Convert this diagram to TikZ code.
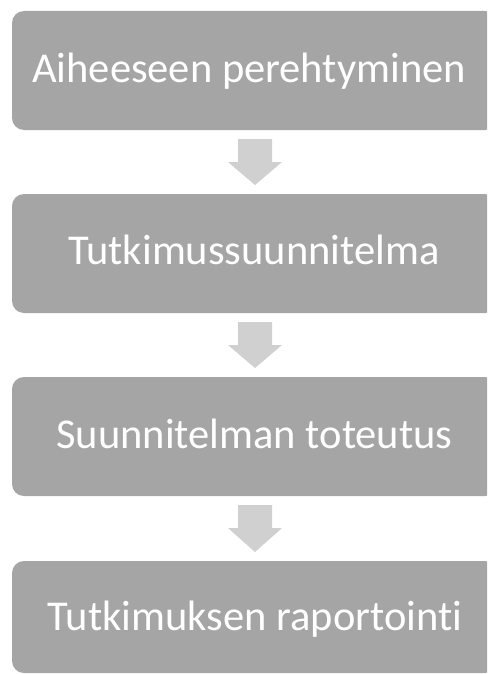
\documentclass[tikz,border=0pt]{standalone}
\usepackage{fontspec}
\setmainfont[Ligatures=NoCommon]{Carlito}
\usetikzlibrary{calc}
\definecolor{boxgray}{HTML}{A5A5A5}
\definecolor{arrowgray}{HTML}{D0D0D0}
\tikzset{
  stagebox/.style={fill=boxgray, draw=none, rounded corners=12pt},
  stagetext/.style={text=white, font=\fontsize{42.5}{50}\selectfont, inner sep=0pt, anchor=base},
  downarrow/.style={fill=arrowgray, draw=none}
}
\newcommand{\myarrow}[2]{%
  \fill[downarrow] ($(#1)+(-17,9)$) -- ($(#1)+(17,9)$) -- ($(#1)+(17,32)$) -- ($(#1)+(27,32)$)
    -- ($(#2)+(0,-9)$) -- ($(#1)+(-27,32)$) -- ($(#1)+(-17,32)$) -- cycle;}
\begin{document}
\begin{tikzpicture}[x=1pt,y=-1pt]
\useasboundingbox (0,0) rectangle (487,674);
\clip (0,0) rectangle (487,674);
\fill[white] (0,0) rectangle (487,674);
\fill[stagebox] (12,11) rectangle (497,130);
\fill[stagebox] (12,194) rectangle (497,313);
\fill[stagebox] (12,377) rectangle (497,496);
\fill[stagebox] (12,561) rectangle (497,673);
\node[stagetext] (t1) at (249,83) {Aiheeseen perehtyminen};
\node[stagetext] (t2) at (254,264) {Tutkimussuunnitelma};
\node[stagetext] (t3) at (254.5,448) {Suunnitelman toteutus};
\node[stagetext] (t4) at (255,630) {Tutkimuksen raportointi};
\coordinate (a1s) at (255,130); \coordinate (a1e) at (255,194);
\coordinate (a2s) at (255,313); \coordinate (a2e) at (255,377);
\coordinate (a3s) at (255,496); \coordinate (a3e) at (255,561);
\myarrow{a1s}{a1e}
\myarrow{a2s}{a2e}
\myarrow{a3s}{a3e}
\end{tikzpicture}
\end{document}
